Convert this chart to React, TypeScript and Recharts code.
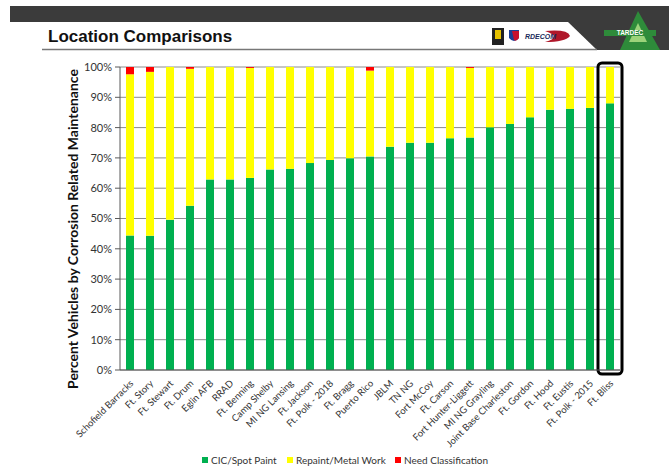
import { BarChart, Bar, XAxis, YAxis, CartesianGrid, ReferenceArea } from 'recharts'

// left to right
const locations = [
  'Schofield Barracks', 'Ft. Story', 'Ft. Stewart', 'Ft. Drum', 'Eglin AFB', 'RRAD',
  'Ft. Benning', 'Camp Shelby', 'MI NG Lansing', 'Ft. Jackson', 'Ft. Polk - 2018',
  'Ft. Bragg', 'Puerto Rico', 'JBLM', 'TN NG', 'Fort McCoy', 'Ft. Carson',
  'Fort Hunter-Liggett', 'MI NG Grayling', 'Joint Base Charleston', 'Ft. Gordon',
  'Ft. Hood', 'Ft. Eustis', 'Ft. Polk - 2015', 'Ft. Bliss',
]
const spotPaint = [
  44.4, 44.3, 49.6, 54.2, 62.9, 62.9, 63.4, 66.2, 66.4, 68.3, 69.3, 69.9, 70.5,
  73.7, 75.0, 75.0, 76.5, 76.7, 80.1, 81.2, 83.4, 85.9, 86.2, 86.5, 88.0,
]
const metalWork = [
  53.2, 54.1, 50.4, 45.2, 37.1, 37.1, 36.3, 33.8, 33.6, 31.7, 30.7, 30.1, 28.3,
  26.3, 25.0, 25.0, 23.5, 23.0, 19.9, 18.8, 16.6, 14.1, 13.8, 13.5, 12.0,
]
const needClass = [
  2.4, 1.6, 0, 0.6, 0, 0, 0.3, 0, 0, 0, 0, 0, 1.2,
  0, 0, 0, 0, 0.3, 0, 0, 0, 0, 0, 0, 0,
]
const yTicks = [0, 10, 20, 30, 40, 50, 60, 70, 80, 90, 100]
const highlighted = 'Ft. Bliss'

const seriesNames = ['CIC/Spot Paint', 'Repaint/Metal Work', 'Need Classification']
const seriesColors = ['#00B050', '#FFFF00', '#FF0000']

const data = locations.map((name, i) => ({
  name,
  cic: spotPaint[i],
  repaint: metalWork[i],
  need: needClass[i],
}))

const bodyFont = 'Lato, "Open Sans", sans-serif'

function LocationTick(props: any) {
  const { x, y, payload } = props
  const px = x + 4
  const py = y + 6
  return (
    <text
      x={px}
      y={py}
      textAnchor="end"
      fontSize={9.5}
      fontFamily={bodyFont}
      fill="#333"
      transform={`rotate(-45 ${px} ${py})`}
    >
      {payload.value}
    </text>
  )
}

function FrameShape(props: any) {
  const { x, y, width, height } = props
  return (
    <rect
      x={x - 2}
      y={y - 4}
      width={width + 4}
      height={height + 8}
      rx={4}
      fill="none"
      stroke="#000"
      strokeWidth={3}
    />
  )
}

function Header() {
  return (
    <svg width={669} height={60} style={{ position: 'absolute', left: 0, top: 0 }}>
      <rect x={10} y={6} width={659} height={16} fill="#3b3b3b" />
      <polygon points="568,22 669,22 669,50 597,50" fill="#3b3b3b" />
      <line x1={42} y1={49.5} x2={597} y2={49.5} stroke="#777" strokeWidth={1.5} />
      <text x={48} y={42} fontFamily='"Liberation Sans", Arial, sans-serif' fontWeight="bold" fontSize={17} fill="#111">
        Location Comparisons
      </text>
      {/* logos, roughly */}
      <rect x={492} y={28} width={12} height={17} fill="#222" />
      <rect x={495} y={30} width={6} height={9} fill="#e6c200" />
      <path d="M509 30 L519 30 L519 38 Q514 44 509 38 Z" fill="#1c3f94" />
      <path d="M512 31 L519 31 L519 38 Q516 42 514 40 Z" fill="#c8102e" />
      <path d="M545 31 Q568 29 570 36 Q565 42 545 42 Q563 37 545 31 Z" fill="#b0182b" />
      <text x={525} y={38.5} fontFamily='"Liberation Sans", Arial, sans-serif' fontWeight="bold" fontStyle="italic" fontSize={7} fill="#1a2a5a">
        RDECOM
      </text>
      <polygon points="638,11 620,50 660,50" fill="#2e8b3a" />
      <polygon points="638,23 629,42 647,42" fill="#9bd37a" />
      <rect x={604} y={30} width={52} height={6} fill="#2e8b3a" />
      <text x={630} y={35.2} textAnchor="middle" fontFamily='"Liberation Sans", Arial, sans-serif' fontWeight="bold" fontSize={6.5} fill="#fff">
        TARDEC
      </text>
    </svg>
  )
}

export default function App() {
  return (
    <div style={{ position: 'absolute', left: 0, top: 0, width: 669, height: 470, background: '#fff', overflow: 'hidden' }}>
      <Header />
      <div style={{ position: 'absolute', left: 0, top: 0 }}>
        <BarChart
          width={669}
          height={470}
          data={data}
          margin={{ top: 67, right: 49, bottom: 10, left: 70 }}
        >
          <CartesianGrid vertical={false} stroke="#8c8c8c" />
          <XAxis
            dataKey="name"
            interval={0}
            height={90}
            tickLine={false}
            axisLine={{ stroke: '#595959' }}
            tick={<LocationTick />}
          />
          <YAxis
            width={50}
            domain={[0, 100]}
            ticks={yTicks}
            tickFormatter={(v: number) => `${v}%`}
            tickSize={5}
            tickMargin={3}
            axisLine={{ stroke: '#595959' }}
            tickLine={{ stroke: '#595959' }}
            tick={{ fontSize: 11, fontFamily: bodyFont, fill: '#333' }}
          />
          <Bar dataKey="cic" stackId="a" fill={seriesColors[0]} barSize={8} isAnimationActive={false} />
          <Bar dataKey="repaint" stackId="a" fill={seriesColors[1]} barSize={8} isAnimationActive={false} />
          <Bar dataKey="need" stackId="a" fill={seriesColors[2]} barSize={8} isAnimationActive={false} />
          <ReferenceArea
            x1={highlighted}
            x2={highlighted}
            y1={0}
            y2={100}
            ifOverflow="visible"
            shape={<FrameShape />}
          />
        </BarChart>
      </div>
      <div
        style={{
          position: 'absolute',
          left: 72,
          top: 229,
          transform: 'translate(-50%, -50%) rotate(-90deg)',
          whiteSpace: 'nowrap',
          fontFamily: bodyFont,
          fontWeight: 'bold',
          fontSize: 14,
          color: '#111',
        }}
      >
        Percent Vehicles by Corrosion Related Maintenance
      </div>
      {seriesNames.map((name, i) => (
        <div
          key={name}
          style={{
            position: 'absolute',
            left: [202, 287, 395][i],
            top: 454,
            display: 'flex',
            alignItems: 'center',
            fontFamily: bodyFont,
            fontSize: 10,
            color: '#333',
            whiteSpace: 'nowrap',
          }}
        >
          <span style={{ width: 6, height: 6, background: seriesColors[i], marginRight: 3, display: 'inline-block' }} />
          {name}
        </div>
      ))}
    </div>
  )
}
